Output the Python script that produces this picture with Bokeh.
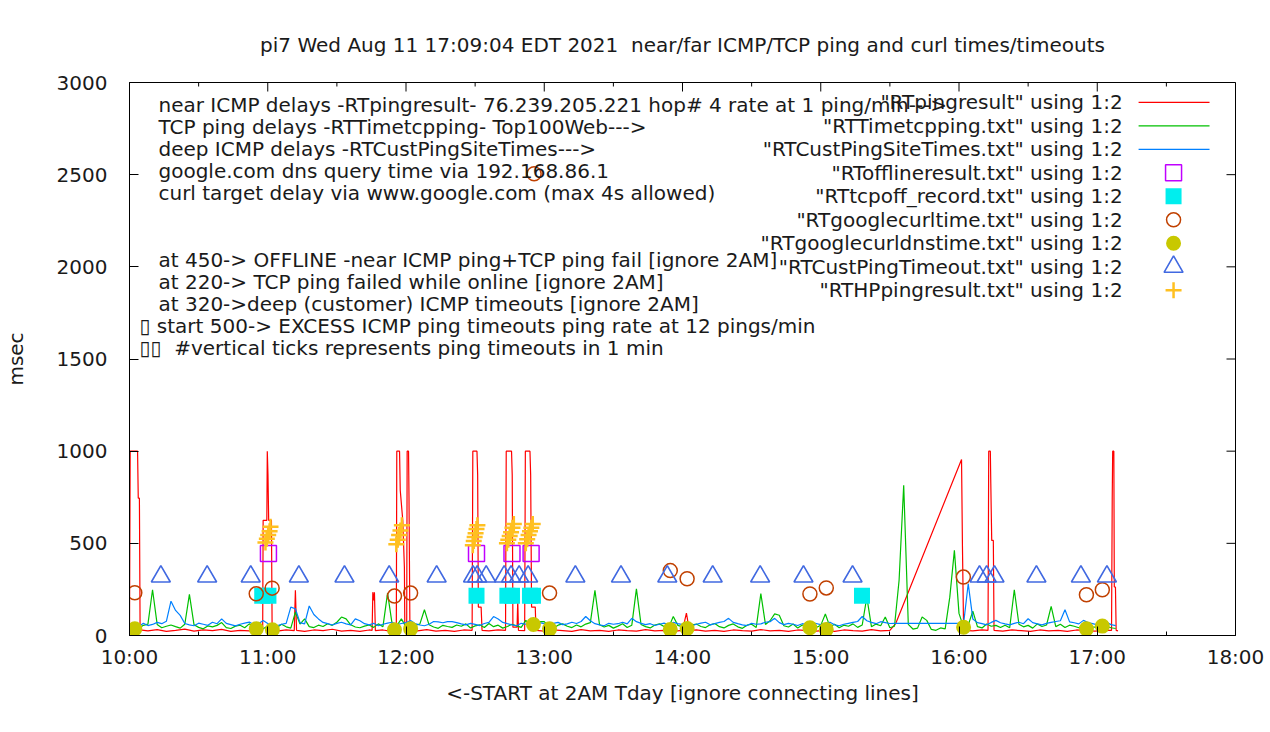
import numpy as np
from bokeh.plotting import figure
from bokeh.models import Range1d, FixedTicker
from bokeh.embed import file_html
from bokeh.resources import INLINE
from bokeh.core.properties import value

# ---------------- texts ----------------
TITLE = "pi7 Wed Aug 11 17:09:04 EDT 2021 \u00a0near/far ICMP/TCP ping and curl times/timeouts"
X_LABEL = "<-START at 2AM Tday [ignore connecting lines]"
Y_LABEL = "msec"
X_TICKS = [10, 11, 12, 13, 14, 15, 16, 17, 18]
X_TICK_LABELS = ["10:00", "11:00", "12:00", "13:00", "14:00", "15:00", "16:00", "17:00", "18:00"]
X_MINOR = [10.5, 11.5, 12.5, 13.5, 14.5, 15.5, 16.5, 17.5]
Y_TICKS = [0, 500, 1000, 1500, 2000, 2500, 3000]

NOTE_LINES = [
    "near ICMP delays -RTpingresult- 76.239.205.221 hop# 4 rate at 1 ping/min--->",
    "TCP ping delays -RTTimetcpping- Top100Web--->",
    "deep ICMP delays -RTCustPingSiteTimes--->",
    "google.com dns query time via 192.168.86.1",
    "curl target delay via www.google.com (max 4s allowed)",
    "at 450-> OFFLINE -near ICMP ping+TCP ping fail [ignore 2AM]",
    "at 220-> TCP ping failed while online [ignore 2AM]",
    "at 320->deep (customer) ICMP timeouts [ignore 2AM]",
    "\u25af start 500-> EXCESS ICMP ping timeouts ping rate at 12 pings/min",
    "\u25af\u25af \u00a0#vertical ticks represents ping timeouts in 1 min",
]
NOTE_ROWS = [0, 1, 2, 3, 4, 7, 8, 9, 10, 11]

LEGEND_LABELS = [
    '"RTpingresult" using 1:2',
    '"RTTimetcpping.txt" using 1:2',
    '"RTCustPingSiteTimes.txt" using 1:2',
    '"RTofflineresult.txt" using 1:2',
    '"RTtcpoff_record.txt" using 1:2',
    '"RTgooglecurltime.txt" using 1:2',
    '"RTgooglecurldnstime.txt" using 1:2',
    '"RTCustPingTimeout.txt" using 1:2',
    '"RTHPpingresult.txt" using 1:2',
]

# ---------------- data (minutes after 10:00, msec) ----------------
RED_MIN = [0, 0.3, 3.5, 3.8, 4.3, 4.6,
           8, 12, 16, 20, 24, 28, 32, 36, 40, 44, 48, 52, 55,
           57.8, 58.0, 59.6, 59.8, 60.1, 60.4, 61.6, 61.9,
           64, 68, 71.5, 72.0, 72.5, 76, 80, 84, 88, 92, 96, 100, 104,
           105.3, 105.6, 106.0, 106.3, 106.7, 110, 113,
           115.8, 116.0, 117.2, 117.5, 118.6, 119.3, 119.5, 120.3, 120.5, 121.1, 121.3, 121.7,
           125, 129, 133, 137, 141, 145,
           148.7, 149.0, 150.8, 151.1, 151.4, 152.6, 153.0,
           156, 160,
           163.2, 163.5, 165.8, 166.1, 166.4, 168.2, 168.5, 168.8,
           171.5, 171.8, 173.8, 174.1, 174.5, 176.1, 176.4,
           180, 184, 188, 192, 196, 200, 204, 208, 212, 216, 220, 224, 228, 232, 236, 240,
           241.7, 243, 246, 250, 254, 258, 262, 266, 270, 274, 278, 282, 286, 290, 294, 298,
           302, 306, 310, 314, 318, 322, 326, 330, 332.5,
           361.1, 361.5, 362.0, 366, 370,
           372.6, 372.9, 373.6, 373.8, 374.2, 374.9, 375.2,
           379, 383, 387, 391, 395, 399, 403, 407, 411, 415, 419, 423,
           426.2, 426.5, 426.7, 427.2, 427.4, 427.9, 428.2, 429]
RED_MS = [30, 1000, 1000, 745, 745, 30,
          25, 32, 22, 28, 35, 24, 30, 26, 33, 22, 28, 25, 30,
          28, 625, 625, 1000, 870, 625, 625, 28,
          24, 30, 26, 245, 28, 22, 30, 26, 34, 24, 28, 22, 30,
          28, 235, 190, 235, 26, 30, 24,
          28, 1000, 1000, 788, 625, 371, 28, 28, 1000, 1000, 752, 28,
          25, 32, 24, 28, 22, 30,
          28, 1000, 1000, 870, 154, 154, 28,
          25, 30,
          28, 1000, 1000, 870, 45, 45, 190, 28,
          26, 1000, 1000, 870, 154, 154, 28,
          24, 30, 26, 22, 32, 25, 28, 22, 30, 26, 24, 32, 25, 28, 22, 28,
          121, 26, 30, 24, 28, 22, 30, 26, 24, 32, 25, 28, 22, 30, 26, 24,
          28, 22, 30, 26, 24, 32, 25, 28, 64,
          955, 480, 28, 25, 30,
          28, 1000, 1000, 826, 516, 516, 28,
          24, 30, 26, 22, 30, 25, 28, 22, 30, 26, 24, 28,
          28, 743, 1000, 1000, 263, 263, 28, 25]

GREEN_STEP_MIN = 2  # TCP ping sampled every 2 minutes from 10:00
GREEN_MS = [45, 52, 38, 55, 62, 248, 60, 42, 50, 57,
            48, 40, 61, 223, 58, 44, 36, 52, 47, 55,
            70, 43, 38, 51, 56, 42, 63, 49, 41, 37,
            52, 58, 44, 61, 47, 40, 127, 62, 90, 48,
            43, 56, 49, 64, 55, 72, 100, 90, 58, 46,
            42, 51, 57, 44, 63, 48, 230, 60, 53, 90,
            47, 41, 56, 62, 140, 58, 46, 39, 55, 49,
            44, 57, 50, 63, 41, 52, 58, 43, 65, 48,
            56, 40, 49, 61, 52, 44, 82, 55, 42, 75,
            75, 48, 41, 56, 63, 50, 43, 57, 47, 62,
            70, 245, 58, 46, 55, 40, 51, 64, 43, 56,
            253, 60, 48, 41, 57, 63, 49, 44, 103, 55,
            47, 40, 56, 62, 49, 43, 58, 65, 48, 41,
            55, 63, 47, 39, 56, 61, 44, 227, 60, 80,
            117, 110, 53, 46, 62, 41, 57, 48, 64, 43,
            55, 117, 47, 61, 42, 56, 50, 63, 44, 57,
            208, 48, 62, 53, 100, 42, 50, 300, 815, 60,
            35, 40, 100, 82, 33, 28, 41, 36, 208, 462,
            120, 44, 57, 132, 48, 41, 62, 50, 55, 43,
            56, 42, 248, 61, 47, 55, 40, 63, 49, 57,
            158, 48, 61, 43, 56, 50, 42, 55, 64, 47,
            44, 57, 49, 42, 38]

BLUE_STEP_MIN = 2  # deep ICMP sampled every 2 minutes
BLUE_A_START_MIN = 0
BLUE_A_MS = [55, 62, 48, 66, 54, 60, 71, 64, 77, 186,
             136, 109, 65, 58, 53, 67, 61, 55, 72, 64,
             90, 66, 59, 52, 61, 67, 73, 58, 64, 81,
             65, 58, 53, 61, 66, 154, 145, 70, 63, 160,
             114, 90, 71, 64, 57, 66, 72, 63, 58, 90,
             80, 64, 58, 66, 53, 61, 67, 72, 59, 65,
             70, 81, 64, 57, 53, 61, 76, 74, 69, 75,
             75, 70, 63, 58, 66, 60, 54, 65, 71, 103,
             90, 71, 64, 58, 53, 66, 61, 72, 84, 70,
             64, 58, 66, 71, 59, 63, 72, 65, 76, 103,
             80, 64, 58, 53, 66, 61, 64, 72, 63, 93,
             75, 66, 59, 64, 54, 61, 67, 58, 71, 64,
             59, 66, 53, 61, 67, 72, 58, 64, 71, 76,
             93, 71, 64, 58, 54, 66, 61, 63, 72, 75,
             93, 70, 59, 66, 61, 54, 64, 58, 71, 65,
             59, 66, 72, 58, 53, 61, 66, 71, 76, 103,
             80, 71, 64, 75, 70, 65, 66]
BLUE_B_START_MIN = 362
BLUE_B_MS = [66, 281, 90, 70, 64, 58, 71, 82, 69, 63,
             58, 66, 72, 64, 91, 70, 63, 58, 66, 71,
             76, 80, 140, 74, 69, 63, 82, 70, 64, 58,
             66, 71, 59, 54]

OFFLINE_MIN = [60.3, 150.6, 166.0, 174.3]
OFFLINE_MS = [445, 445, 445, 445]

TCPOFF_MIN = [57.6, 60.3, 150.6, 164.0, 166.0, 173.8, 175.1, 317.9]
TCPOFF_MS = [215, 215, 215, 215, 215, 215, 215, 215]

CURL_MIN = [2.3, 55.0, 61.9, 115.0, 122.0, 175.6, 182.3, 234.7, 242.0, 295.3, 302.4, 361.9, 415.3, 422.2]
CURL_MS = [232, 226, 257, 214, 230, 2505, 230, 352, 308, 225, 258, 317, 221, 248]

DNS_MIN = [2.3, 55.0, 62.0, 115.0, 122.0, 175.3, 182.3, 234.7, 242.0, 295.3, 302.4, 362.0, 415.3, 422.2]
DNS_MS = [36, 36, 31, 31, 36, 60, 36, 33, 38, 42, 33, 45, 36, 51]

CUSTTO_MIN = [13.6, 33.7, 52.6, 73.5, 93.3, 112.7, 133.3, 149.1, 150.9, 154.8, 162.6, 165.6,
              169.1, 173.0, 193.5, 213.3, 233.4, 253.1, 273.7, 292.5, 313.8, 368.9, 372.0,
              375.4, 393.6, 412.9, 424.2]
CUSTTO_MS = [320] * len(CUSTTO_MIN)

HP_MIN = [59.0, 59.6, 60.2, 60.8, 61.2,
          115.8, 116.4, 117.0, 117.6, 118.2,
          149.0, 149.4, 149.8, 150.2, 150.6, 151.0,
          163.8, 164.4, 165.0, 165.6, 166.2, 166.8,
          172.0, 172.6, 173.2, 173.8, 174.4, 175.0]
HP_MS = [505, 525, 545, 565, 590,
         495, 520, 545, 570, 598,
         490, 512, 535, 555, 578, 598,
         500, 520, 540, 560, 585, 605,
         500, 522, 545, 565, 585, 605]

# ---------------- styles ----------------
C_RED, C_GREEN, C_BLUE = "#ff0000", "#00c000", "#0080ff"
C_OFF, C_TCP, C_CURL, C_DNS, C_CUST, C_HP = "#c000ff", "#00eeee", "#c04000", "#c8c800", "#4169e1", "#ffc020"
FONT = "DejaVu Sans"
FS = "20px"
TXT = "#1a1a1a"

W, H = 1264, 716
BL, BT = 128, 82
FW, FH = 1107, 553
BR, BB = W - BL - FW, H - BT - FH
MAJOR_LEN, MINOR_LEN = 9, 4


def hours(mins):
    return 10 + np.asarray(mins, dtype=float) / 60.0


p = figure(width=W, height=H, x_range=Range1d(10, 18), y_range=Range1d(0, 3000),
           output_backend="svg", toolbar_location=None, tools="",
           min_border_left=BL, min_border_right=BR, min_border_top=BT, min_border_bottom=BB)
p.extra_x_ranges = {"px": Range1d(0, FW)}
p.extra_y_ranges = {"py": Range1d(0, FH)}
p.background_fill_color = "white"
p.border_fill_color = "white"
p.outline_line_color = "black"
p.outline_line_width = 1
p.xgrid.visible = False
p.ygrid.visible = False

p.title.text = TITLE
p.title.align = "center"
p.title.text_font = FONT
p.title.text_font_size = FS
p.title.text_font_style = "normal"
p.title.text_color = TXT
p.title.standoff = 52


def style_axis(ax, ticker):
    ax.ticker = ticker
    ax.major_tick_in = MAJOR_LEN
    ax.major_tick_out = 0
    ax.minor_tick_in = MINOR_LEN
    ax.minor_tick_out = 0
    ax.major_tick_line_color = "black"
    ax.minor_tick_line_color = "black"
    ax.axis_line_color = "black"
    ax.major_label_text_font = FONT
    ax.major_label_text_font_size = FS
    ax.major_label_text_color = TXT
    ax.axis_label_text_font = FONT
    ax.axis_label_text_font_size = FS
    ax.axis_label_text_font_style = "normal"
    ax.axis_label_text_color = TXT


xa = p.xaxis[0]
style_axis(xa, FixedTicker(ticks=X_TICKS, minor_ticks=X_MINOR))
xa.major_label_overrides = {t: lab for t, lab in zip(X_TICKS, X_TICK_LABELS)}
xa.major_label_standoff = 9
xa.axis_label = X_LABEL
xa.axis_label_standoff = 9

ya = p.yaxis[0]
style_axis(ya, FixedTicker(ticks=Y_TICKS, minor_ticks=[]))
ya.major_label_standoff = 22
ya.axis_label = Y_LABEL
ya.axis_label_standoff = 26

# mirrored inward ticks on the top and right edges of the frame
n = len(X_TICKS)
p.segment(x0=X_TICKS, x1=X_TICKS, y0=[FH] * n, y1=[FH - MAJOR_LEN] * n,
          y_range_name="py", line_color="black", line_width=1)
m = len(X_MINOR)
p.segment(x0=X_MINOR, x1=X_MINOR, y0=[FH] * m, y1=[FH - MINOR_LEN] * m,
          y_range_name="py", line_color="black", line_width=1)
k = len(Y_TICKS)
p.segment(x0=[FW] * k, x1=[FW - MAJOR_LEN] * k, y0=Y_TICKS, y1=Y_TICKS,
          x_range_name="px", line_color="black", line_width=1)

# ---------------- series ----------------
green_min = np.arange(len(GREEN_MS)) * GREEN_STEP_MIN
blue_min = np.concatenate([BLUE_A_START_MIN + np.arange(len(BLUE_A_MS)) * BLUE_STEP_MIN,
                           BLUE_B_START_MIN + np.arange(len(BLUE_B_MS)) * BLUE_STEP_MIN])
blue_ms = BLUE_A_MS + BLUE_B_MS

p.line(hours(RED_MIN), RED_MS, line_color=C_RED, line_width=1.2)
p.line(hours(green_min), GREEN_MS, line_color=C_GREEN, line_width=1.2)
p.line(hours(blue_min), blue_ms, line_color=C_BLUE, line_width=1.2)

p.scatter(hours(OFFLINE_MIN), OFFLINE_MS, marker="square", size=16, fill_color=None,
          line_color=C_OFF, line_width=1.5)
p.scatter(hours(TCPOFF_MIN), TCPOFF_MS, marker="square", size=16, fill_color=C_TCP,
          line_color=None)
p.scatter(hours(CURL_MIN), CURL_MS, marker="circle", size=14, fill_color=None,
          line_color=C_CURL, line_width=1.5)
p.scatter(hours(DNS_MIN), DNS_MS, marker="circle", size=15, fill_color=C_DNS,
          line_color=None)
p.scatter(hours(CUSTTO_MIN), CUSTTO_MS, marker="triangle", size=19, fill_color=None,
          line_color=C_CUST, line_width=1.6)
p.scatter(hours(HP_MIN), HP_MS, marker="cross", size=16, line_color=C_HP, line_width=2.5)

# ---------------- notes (frame pixel coordinates) ----------------
NOTE_TOP, NOTE_STEP = 22.5, 22.1
note_x = [10 if s.startswith("\u25af") else 29 for s in NOTE_LINES]
note_y = [FH - (NOTE_TOP + NOTE_STEP * r) for r in NOTE_ROWS]
p.text(x=note_x, y=note_y, text=NOTE_LINES, x_range_name="px", y_range_name="py",
       text_font=value(FONT), text_font_size=value(FS), text_color=TXT,
       text_align="left", text_baseline="middle")

# ---------------- key ----------------
KEY_TOP, KEY_STEP = 19.8, 23.5
KEY_TEXT_RIGHT, KEY_S0, KEY_S1, KEY_MX = 994, 1010, 1081, 1045
key_y = [FH - (KEY_TOP + KEY_STEP * i) for i in range(len(LEGEND_LABELS))]
p.text(x=[KEY_TEXT_RIGHT] * len(LEGEND_LABELS), y=key_y, text=LEGEND_LABELS,
       x_range_name="px", y_range_name="py", text_font=value(FONT), text_font_size=value(FS),
       text_color=TXT, text_align="right", text_baseline="middle")
for i, c in enumerate([C_RED, C_GREEN, C_BLUE]):
    p.segment(x0=[KEY_S0], y0=[key_y[i]], x1=[KEY_S1], y1=[key_y[i]],
              x_range_name="px", y_range_name="py", line_color=c, line_width=1.2)
p.scatter([KEY_MX], [key_y[3]], x_range_name="px", y_range_name="py", marker="square",
          size=16, fill_color=None, line_color=C_OFF, line_width=1.5)
p.scatter([KEY_MX], [key_y[4]], x_range_name="px", y_range_name="py", marker="square",
          size=16, fill_color=C_TCP, line_color=None)
p.scatter([KEY_MX], [key_y[5]], x_range_name="px", y_range_name="py", marker="circle",
          size=14, fill_color=None, line_color=C_CURL, line_width=1.5)
p.scatter([KEY_MX], [key_y[6]], x_range_name="px", y_range_name="py", marker="circle",
          size=15, fill_color=C_DNS, line_color=None)
p.scatter([KEY_MX], [key_y[7]], x_range_name="px", y_range_name="py", marker="triangle",
          size=19, fill_color=None, line_color=C_CUST, line_width=1.6)
p.scatter([KEY_MX], [key_y[8]], x_range_name="px", y_range_name="py", marker="cross",
          size=16, line_color=C_HP, line_width=2.5)

open("out.html", "w").write(file_html(p, INLINE))
